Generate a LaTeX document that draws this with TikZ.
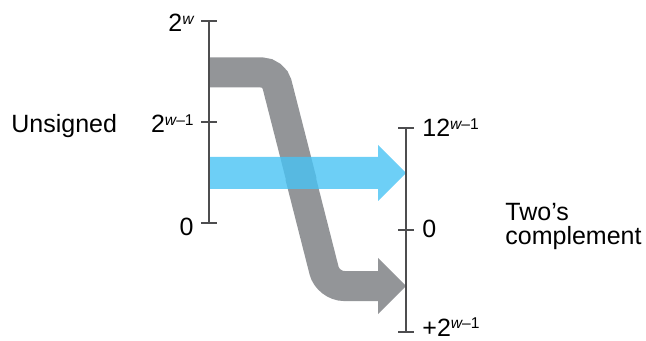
\documentclass[tikz,border=0pt]{standalone}
\usepackage{fontspec}
\setmainfont{Liberation Sans}
\definecolor{bandgray}{RGB}{147,149,152}
\definecolor{arrowblue}{RGB}{72,195,244}
\definecolor{axisgray}{RGB}{77,77,79}
\newcommand{\expo}[1]{\raisebox{3.8pt}{\fontsize{7.8}{8}\selectfont #1}}
\tikzset{
  axisline/.style={axisgray, line width=0.9pt},
  band/.style={bandgray, line width=15pt},
  lbl/.style={inner sep=0pt, font=\fontsize{12.5}{12}\selectfont},
}

\begin{document}
\begin{tikzpicture}[x=0.5pt, y=-0.5pt]
    \useasboundingbox (0,0) rectangle (646,341);

    % Gray band, unsigned top half wraps to negative values
    \draw[band, rounded corners=6pt] (210,72.5) -- (274,72.5) -- (302,182);
    \draw[band, rounded corners=8pt] (300,176) -- (328,286) -- (379,286);
    \fill[bandgray] (378,258) -- (406,286) -- (378,314) -- cycle;

    % Blue arrow, lower half kept as is
    \fill[arrowblue, fill opacity=0.8] (210,157) -- (378,157) -- (378,145)
        -- (406,173) -- (378,201) -- (378,189) -- (210,189) -- cycle;

    % Left axis
    \draw[axisline] (209,21) -- (209,223);
    \foreach \y in {21,122,223}
        \draw[axisline] (201,\y) -- (217,\y);
    \node[lbl, anchor=base east] (uw) at (194,32) {2\expo{\itshape w}};
    \node[lbl, anchor=base east] (uh) at (194,133) {2\expo{{\itshape w}–1}};
    \node[lbl, anchor=base east] (uz) at (194,235) {0};
    \node[lbl, anchor=base west] (unsigned) at (11,133) {Unsigned};

    % Right axis
    \draw[axisline] (406,128) -- (406,332);
    \foreach \y in {128,230,332}
        \draw[axisline] (398,\y) -- (414,\y);
    \node[lbl, anchor=base west] (th) at (422,137) {12\expo{{\itshape w}–1}};
    \node[lbl, anchor=base west] (tz) at (422,238) {0};
    \node[lbl, anchor=base west] (tl) at (422,336) {+2\expo{{\itshape w}–1}};
    \node[lbl, anchor=base west, align=left] (twos) at (505,245) {Two’s\\complement};

\end{tikzpicture}
\end{document}
